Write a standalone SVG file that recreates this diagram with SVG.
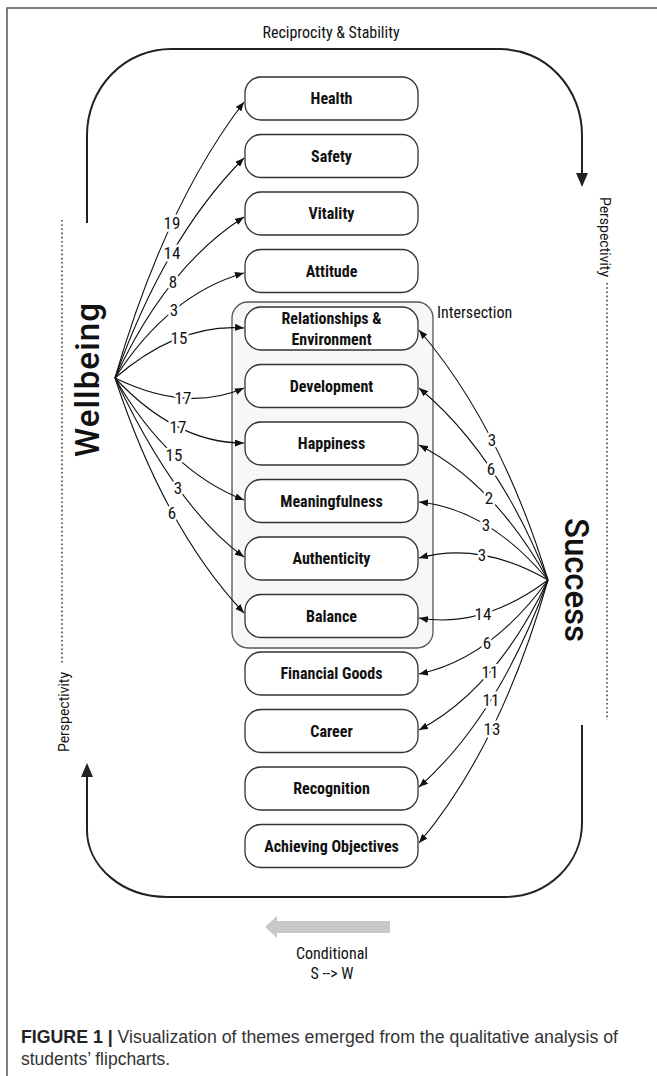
<svg xmlns="http://www.w3.org/2000/svg" width="657" height="1076" viewBox="0 0 657 1076">
<defs>
<style>
.box{fill:#fff;stroke:#333;stroke-width:1.3}
.nt{font-family:"Liberation Sans Narrow","Roboto Condensed","DejaVu Sans Condensed",sans-serif;font-weight:bold;font-size:16px;fill:#111;text-anchor:middle}
.edge{fill:none;stroke:#111;stroke-width:1.1;marker-end:url(#ah)}
.num{font-family:"Liberation Sans Narrow","Roboto Condensed","DejaVu Sans Condensed",sans-serif;font-size:17px;fill:#111;text-anchor:middle;paint-order:stroke;stroke:#fff;stroke-width:5px;stroke-linejoin:round}
.lbl{font-family:"Liberation Sans Narrow","Roboto Condensed","DejaVu Sans Condensed",sans-serif;font-size:16px;fill:#111}
.loop{fill:none;stroke:#222;stroke-width:2}
.dot{fill:none;stroke:#444;stroke-width:1.6;stroke-dasharray:1.6 2.6}
.persp{font-family:Roboto,"Liberation Sans",sans-serif;font-size:14px;fill:#111;text-anchor:middle}
.big{font-family:Roboto,"Liberation Sans",sans-serif;font-weight:500;font-size:33px;fill:#111;text-anchor:middle}
.cap{font-family:"Liberation Sans",Arial,sans-serif;font-size:17.5px;fill:#333}
</style>
<marker id="ah" viewBox="0 0 9 7" refX="9" refY="3.5" markerWidth="9" markerHeight="7" markerUnits="userSpaceOnUse" orient="auto"><path d="M0,0 L9,3.5 L0,7 z" fill="#111"/></marker>
</defs>

<!-- frame -->
<path d="M657,8 H7 V1076" fill="none" stroke="#555" stroke-width="1.5"/>

<!-- loops -->
<g id="loops">
<text class="lbl" x="331" y="38" text-anchor="middle">Reciprocity &amp; Stability</text>
<path class="loop" d="M87,223 V135 A84,86 0 0 1 171,49 H500 A82,86 0 0 1 582,135 V175"/>
<path d="M576,173 L588,173 L582,187 Z" fill="#222"/>
<path class="loop" d="M87,776 V830 A80,67 0 0 0 167,897 H505 A77,74 0 0 0 582,823 V725"/>
<path d="M81,777 L93,777 L87,763 Z" fill="#222"/>
</g>

<!-- perspectivity -->
<g id="perspectivity">
<line class="dot" x1="62" y1="220" x2="62" y2="663"/>
<text class="persp" transform="translate(69,712) rotate(-90)">Perspectivity</text>
<line class="dot" x1="607" y1="283" x2="607" y2="720"/>
<text class="persp" transform="translate(600,237) rotate(90)">Perspectivity</text>
</g>

<!-- hubs -->
<g id="wellbeing"><text class="big" textLength="154" lengthAdjust="spacing" transform="translate(99,380) rotate(-90)">Wellbeing</text></g>
<g id="success"><text class="big" textLength="124" lengthAdjust="spacing" transform="translate(565,580) rotate(90)">Success</text></g>

<!-- intersection container -->
<g id="intersection">
<rect x="232" y="302" width="201" height="346" rx="16" fill="#f7f7f7" stroke="#555" stroke-width="1.3"/>
<text class="lbl" x="437" y="318">Intersection</text>
</g>

<!-- nodes -->
<g id="n-health"><rect class="box" x="245" y="77" width="173" height="43" rx="16"/><text class="nt" x="331.5" y="104">Health</text></g>
<g id="n-safety"><rect class="box" x="245" y="134.5" width="173" height="43" rx="16"/><text class="nt" x="331.5" y="161.5">Safety</text></g>
<g id="n-vitality"><rect class="box" x="245" y="192" width="173" height="43" rx="16"/><text class="nt" x="331.5" y="219">Vitality</text></g>
<g id="n-attitude"><rect class="box" x="245" y="249.5" width="173" height="43" rx="16"/><text class="nt" x="331.5" y="276.5">Attitude</text></g>
<g id="n-relationships"><rect class="box" x="245" y="307" width="173" height="43" rx="16"/><text class="nt" x="331.5" y="324">Relationships &amp;</text><text class="nt" x="331.5" y="345">Environment</text></g>
<g id="n-development"><rect class="box" x="245" y="364.5" width="173" height="43" rx="16"/><text class="nt" x="331.5" y="391.5">Development</text></g>
<g id="n-happiness"><rect class="box" x="245" y="422" width="173" height="43" rx="16"/><text class="nt" x="331.5" y="449">Happiness</text></g>
<g id="n-meaningfulness"><rect class="box" x="245" y="479.5" width="173" height="43" rx="16"/><text class="nt" x="331.5" y="506.5">Meaningfulness</text></g>
<g id="n-authenticity"><rect class="box" x="245" y="537" width="173" height="43" rx="16"/><text class="nt" x="331.5" y="564">Authenticity</text></g>
<g id="n-balance"><rect class="box" x="245" y="594.5" width="173" height="43" rx="16"/><text class="nt" x="331.5" y="621.5">Balance</text></g>
<g id="n-financial"><rect class="box" x="245" y="652" width="173" height="43" rx="16"/><text class="nt" x="331.5" y="679">Financial Goods</text></g>
<g id="n-career"><rect class="box" x="245" y="709.5" width="173" height="43" rx="16"/><text class="nt" x="331.5" y="736.5">Career</text></g>
<g id="n-recognition"><rect class="box" x="245" y="767" width="173" height="43" rx="16"/><text class="nt" x="331.5" y="794">Recognition</text></g>
<g id="n-achieving"><rect class="box" x="245" y="824.5" width="173" height="43" rx="16"/><text class="nt" x="331.5" y="851.5">Achieving Objectives</text></g>

<!-- connectors -->
<g id="connectors">
<path class="edge" d="M115,378 Q164.5,206 244,102"/>
<path class="edge" d="M115,378 Q164.5,238 244,158"/>
<path class="edge" d="M115,378 Q166.5,266.5 244,217"/>
<path class="edge" d="M115,378 Q168.5,294.5 244,273"/>
<path class="edge" d="M115,378 Q178.5,323 244,328"/>
<path class="edge" d="M115,378 Q186.5,413 244,388"/>
<path class="edge" d="M115,378 Q176.5,443.5 244,443"/>
<path class="edge" d="M115,378 Q168.5,471 244,500"/>
<path class="edge" d="M115,378 Q176.5,508.5 244,557"/>
<path class="edge" d="M115,378 Q164.5,528.5 244,613"/>

<path class="edge" d="M548,580 Q500.5,425 419,330"/>
<path class="edge" d="M548,580 Q498.5,454 419,388"/>
<path class="edge" d="M548,580 Q494.5,483.5 419,445"/>
<path class="edge" d="M548,580 Q488.5,509 419,502"/>
<path class="edge" d="M548,580 Q480.5,541 419,558"/>
<path class="edge" d="M548,580 Q482.5,629 419,618"/>
<path class="edge" d="M548,580 Q490.5,659 419,674"/>
<path class="edge" d="M548,580 Q496.5,689 419,730"/>
<path class="edge" d="M548,580 Q498.5,716.5 419,787"/>
<path class="edge" d="M548,580 Q500.5,746.5 419,843"/>

<text class="num" x="172" y="229">19</text>
<text class="num" x="172" y="259">14</text>
<text class="num" x="173" y="288">8</text>
<text class="num" x="174" y="316">3</text>
<text class="num" x="179" y="344">15</text>
<text class="num" x="183" y="404">17</text>
<text class="num" x="178" y="433">17</text>
<text class="num" x="174" y="461">15</text>
<text class="num" x="178" y="494">3</text>
<text class="num" x="172" y="519">6</text>

<text class="num" x="492" y="446">3</text>
<text class="num" x="491" y="475">6</text>
<text class="num" x="489" y="504">2</text>
<text class="num" x="486" y="531">3</text>
<text class="num" x="482" y="561">3</text>
<text class="num" x="483" y="620">14</text>
<text class="num" x="487" y="649">6</text>
<text class="num" x="490" y="678">11</text>
<text class="num" x="491" y="706">11</text>
<text class="num" x="492" y="735">13</text>
</g>

<!-- conditional -->
<g id="conditional">
<path d="M390,921 H277 V916 L265,927 L277,938 V933 H390 Z" fill="#c8c8c8"/>
<text class="lbl" x="332" y="959" text-anchor="middle">Conditional</text>
<text class="lbl" x="332" y="979" text-anchor="middle">S --&gt; W</text>
</g>

<!-- caption -->
<g id="caption">
<text class="cap" x="21" y="1043" textLength="597" lengthAdjust="spacingAndGlyphs"><tspan font-weight="bold" fill="#222">FIGURE 1 |</tspan> Visualization of themes emerged from the qualitative analysis of</text>
<text class="cap" x="21" y="1065">students’ flipcharts.</text>
</g>
</svg>
